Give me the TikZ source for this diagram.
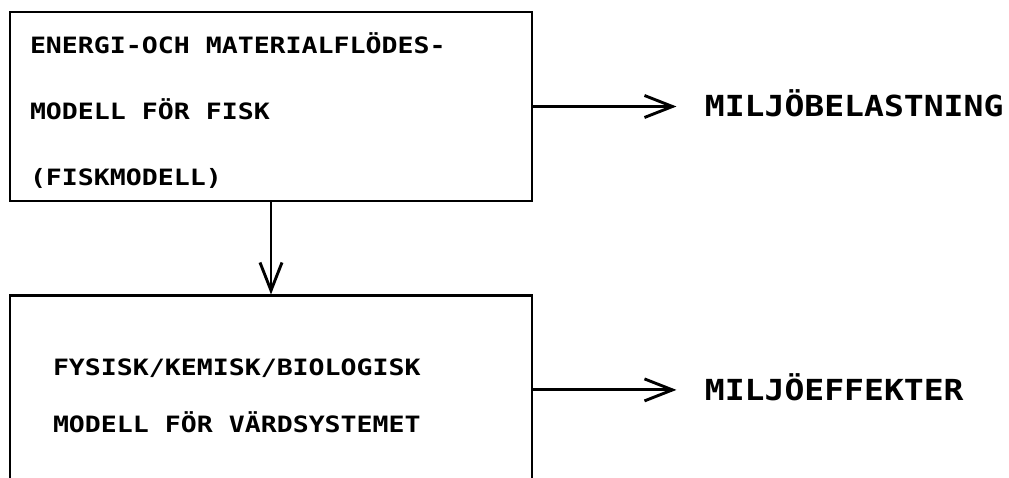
\documentclass[tikz,border=0pt]{standalone}
\usepackage{fontspec}
\newfontfamily\plotfont[FakeStretch=1.18]{DejaVu Sans Mono}
\newfontfamily\labelfont[FakeStretch=1.14]{DejaVu Sans Mono}
\newcommand{\firstline}{\rule{0pt}{28pt}}
\newcommand{\plotspacing}{\spaceskip=16pt\relax}
\usetikzlibrary{arrows.meta,positioning}

\begin{document}
\begin{tikzpicture}[x=1pt,y=1pt,>={Straight Barb[length=28pt,width=22pt]},line width=2.9pt,
		model box/.style={rectangle,draw,minimum width=522pt,align=left,execute at begin node=\plotspacing,font=\plotfont\bfseries\fontsize{22.5}{66}\selectfont},
		out label/.style={inner sep=0pt,text height=21pt,text depth=0pt,font=\labelfont\bfseries\fontsize{29}{30}\selectfont}]
		\useasboundingbox (0,0) rectangle (1009,-478);
		\clip (0,0) rectangle (1009,-478);
		\node[model box,minimum height=189pt,inner xsep=20pt,text width=482pt] (fisk) at (271,-106.5) {\firstline ENERGI-OCH MATERIALFLÖDES-\\MODELL FÖR FISK\\(FISKMODELL)};
		\node[model box,minimum height=188pt,inner xsep=43pt,text width=436pt,font=\plotfont\bfseries\fontsize{22.5}{57}\selectfont] (vard) [below=92pt of fisk] {\firstline FYSISK/KEMISK/BIOLOGISK\\MODELL FÖR VÄRDSYSTEMET};
		\node[out label] (belast) [right=170pt of fisk.east] {MILJÖBELASTNING};
		\node[out label] (effekt) [right=170pt of vard.east] {MILJÖEFFEKTER};
		\path[->]
		(fisk) edge (vard)
		
		(fisk) edge [shorten >=27pt] (belast)
		
		(vard) edge [shorten >=27pt] (effekt);
		\end{tikzpicture}
\end{document}
